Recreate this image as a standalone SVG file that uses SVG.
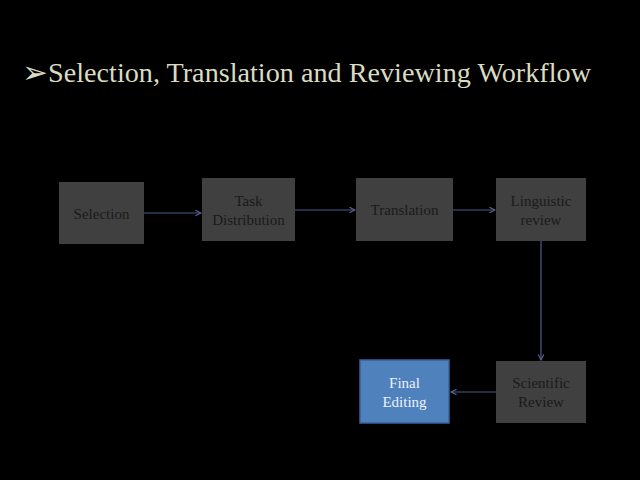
<svg xmlns="http://www.w3.org/2000/svg" width="640" height="480" viewBox="0 0 640 480">
<style>
.box{fill:#404040;}
.blue{fill:#4f81bd;stroke:#3a629a;stroke-width:1.5;}
.lbl{font-family:"Liberation Serif",serif;font-size:15px;fill:#1a1a1a;text-anchor:middle;}
.lblw{font-family:"Liberation Serif",serif;font-size:15px;fill:#eef2fa;text-anchor:middle;}
.conn{stroke:#4c5c8e;stroke-width:1.2;fill:none;marker-end:url(#ah);}
.title{font-family:"Liberation Serif",serif;font-size:27px;fill:#d9dcc2;}
</style>
<defs>
<marker id="ah" viewBox="0 0 10 10" refX="9" refY="5" markerWidth="7" markerHeight="7" markerUnits="userSpaceOnUse" orient="auto">
<path d="M1,1 L9,5 L1,9" fill="none" stroke="#5a6a9a" stroke-width="1.5"/>
</marker>
</defs>
<rect x="0" y="0" width="640" height="480" fill="#000"/>
<g id="title">
<text x="22" y="83" font-family="DejaVu Sans,sans-serif" font-size="31" fill="#d9dcc2">➢</text>
<text class="title" x="48" y="82" textLength="543" lengthAdjust="spacingAndGlyphs">Selection, Translation and Reviewing Workflow</text>
</g>
<g id="connectors">
<line class="conn" x1="144" y1="213" x2="201" y2="213"/>
<line class="conn" x1="295" y1="210" x2="355" y2="210"/>
<line class="conn" x1="453" y1="210" x2="495" y2="210"/>
<line class="conn" x1="541" y1="241" x2="541" y2="360"/>
<line class="conn" x1="496" y1="392" x2="451" y2="392"/>
</g>
<g id="selection">
<rect class="box" x="59" y="182" width="85" height="62"/>
<text class="lbl" x="101.5" y="219">Selection</text>
</g>
<g id="task-distribution">
<rect class="box" x="202" y="178" width="93" height="63"/>
<text class="lbl" x="248.5" y="206">Task</text>
<text class="lbl" x="248.5" y="225">Distribution</text>
</g>
<g id="translation">
<rect class="box" x="356" y="178" width="97" height="63"/>
<text class="lbl" x="404.5" y="215">Translation</text>
</g>
<g id="linguistic-review">
<rect class="box" x="496" y="178" width="90" height="63"/>
<text class="lbl" x="541" y="206">Linguistic</text>
<text class="lbl" x="541" y="225">review</text>
</g>
<g id="scientific-review">
<rect class="box" x="496" y="361" width="90" height="62"/>
<text class="lbl" x="541" y="388">Scientific</text>
<text class="lbl" x="541" y="407">Review</text>
</g>
<g id="final-editing">
<rect class="blue" x="360" y="360" width="89" height="63"/>
<text class="lblw" x="404.5" y="388">Final</text>
<text class="lblw" x="404.5" y="407">Editing</text>
</g>
</svg>
